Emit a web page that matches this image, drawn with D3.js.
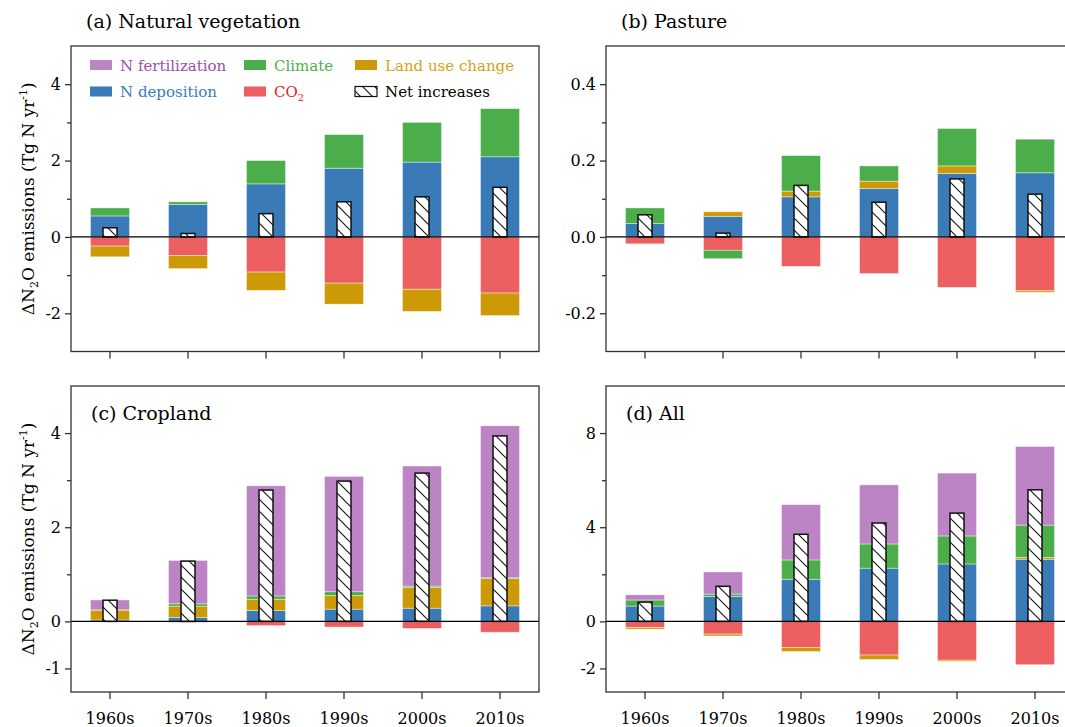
<!DOCTYPE html>
<html>
<head>
<meta charset="utf-8">
<script src="https://cdn.jsdelivr.net/npm/d3@7"></script>
<style>
  body { margin: 0; background: #fff; }
  svg { font-family: "DejaVu Serif", serif; }
</style>
</head>
<body>
<script>
const decades = ["1960s", "1970s", "1980s", "1990s", "2000s", "2010s"];

// (a) natural vegetation
const natNfert   = [0, 0, 0, 0, 0, 0];
const natNdep    = [0.55, 0.85, 1.39, 1.80, 1.96, 2.10];
const natClimate = [0.21, 0.07, 0.61, 0.88, 1.04, 1.26];
const natCo2     = [-0.24, -0.49, -0.92, -1.21, -1.37, -1.47];
const natLuc     = [-0.28, -0.34, -0.48, -0.55, -0.58, -0.59];
const natNet     = [0.24, 0.09, 0.61, 0.92, 1.05, 1.30];

// (b) pasture
const pasNfert   = [0, 0, 0, 0, 0, 0];
const pasNdep    = [0.035, 0.054, 0.105, 0.127, 0.166, 0.168];
const pasClimate = [0.041, -0.022, 0.093, 0.040, 0.098, 0.088];
const pasCo2     = [-0.018, -0.035, -0.077, -0.096, -0.132, -0.141];
const pasLuc     = [0, 0.012, 0.015, 0.019, 0.020, -0.004];
const pasNet     = [0.058, 0.010, 0.135, 0.091, 0.152, 0.112];

// (c) cropland
const cropNfert   = [0.21, 0.92, 2.34, 2.45, 2.55, 3.23];
const cropNdep    = [0.03, 0.085, 0.23, 0.26, 0.28, 0.33];
const cropClimate = [0.005, 0.05, 0.07, 0.08, 0.03, 0.015];
const cropCo2     = [-0.005, -0.02, -0.09, -0.12, -0.15, -0.23];
const cropLuc     = [0.21, 0.24, 0.24, 0.29, 0.44, 0.58];
const cropNet     = [0.45, 1.28, 2.79, 2.98, 3.15, 3.94];

// (d) all
const allNfert   = [0.22, 0.94, 2.35, 2.51, 2.67, 3.34];
const allNdep    = [0.65, 1.06, 1.79, 2.26, 2.44, 2.64];
const allClimate = [0.26, 0.10, 0.82, 1.03, 1.19, 1.37];
const allCo2     = [-0.26, -0.54, -1.11, -1.43, -1.65, -1.84];
const allLuc     = [-0.07, -0.08, -0.17, -0.19, -0.05, 0.08];
const allNet     = [0.82, 1.49, 3.70, 4.18, 4.60, 5.59];

// y ticks
const natTicks = [-2, 0, 2, 4], natMinor = [-1, 1, 3], natLabels = ["-2", "0", "2", "4"];
const pasTicks = [-0.2, 0, 0.2, 0.4], pasMinor = [-0.1, 0.1, 0.3], pasLabels = ["-0.2", "0.0", "0.2", "0.4"];
const cropTicks = [-1, 0, 2, 4], cropMinor = [1, 3], cropLabels = ["-1", "0", "2", "4"];
const allTicks = [-2, 0, 4, 8], allMinor = [2, 6], allLabels = ["-2", "0", "4", "8"];

const keys = ["ndep", "co2", "luc", "climate", "nfert"]; // stacking order
const fill = {nfert: "#bd84c5", ndep: "#3a7bb7", climate: "#4cae4b", co2: "#ec5f60", luc: "#cc9a06"};
const textCol = {nfert: "#9a4ea6", ndep: "#3a7dbd", climate: "#4daf4a", co2: "#e41a1c", luc: "#d6a219"};

const W = 468;
const panels = [
  {title: "(a) Natural vegetation", x0: 71, y0: 46, h: 305.5, dom: [-3, 5], ticks: natTicks, minor: natMinor, labels: natLabels,
   s: {nfert: natNfert, ndep: natNdep, climate: natClimate, co2: natCo2, luc: natLuc}, net: natNet, inside: false, ylab: true, xlab: false, legend: true},
  {title: "(b) Pasture", x0: 606, y0: 46, h: 305.5, dom: [-0.3, 0.5], ticks: pasTicks, minor: pasMinor, labels: pasLabels,
   s: {nfert: pasNfert, ndep: pasNdep, climate: pasClimate, co2: pasCo2, luc: pasLuc}, net: pasNet, inside: false, ylab: false, xlab: false},
  {title: "(c) Cropland", x0: 71, y0: 386, h: 306, dom: [-1.5, 5], ticks: cropTicks, minor: cropMinor, labels: cropLabels,
   s: {nfert: cropNfert, ndep: cropNdep, climate: cropClimate, co2: cropCo2, luc: cropLuc}, net: cropNet, inside: true, ylab: true, xlab: true},
  {title: "(d) All", x0: 606, y0: 386, h: 306, dom: [-3, 10], ticks: allTicks, minor: allMinor, labels: allLabels,
   s: {nfert: allNfert, ndep: allNdep, climate: allClimate, co2: allCo2, luc: allLuc}, net: allNet, inside: true, ylab: false, xlab: true}
];

const svg = d3.select("body").append("svg")
  .attr("width", 1065).attr("height", 727);

const pat = svg.append("defs").append("pattern")
  .attr("id", "hatch").attr("patternUnits", "userSpaceOnUse")
  .attr("width", 12).attr("height", 12);
pat.append("rect").attr("width", 12).attr("height", 12).attr("fill", "#fff");
pat.append("path").attr("d", "M-1,-1 L13,13 M-1,11 L1,13 M11,-1 L13,1")
  .attr("stroke", "#111").attr("stroke-width", 1.1);

panels.forEach(p => {
  const g = svg.append("g");
  const x = d3.scaleBand().domain(decades).range([p.x0, p.x0 + W]).paddingInner(0.5).paddingOuter(0.25);
  const y = d3.scaleLinear().domain(p.dom).range([p.y0 + p.h, p.y0]);

  const rows = decades.map((d, i) => {
    const r = {decade: d};
    keys.forEach(k => r[k] = p.s[k][i]);
    return r;
  });
  const stacked = d3.stack().keys(keys).offset(d3.stackOffsetDiverging)(rows);

  g.selectAll("g.series").data(stacked).enter().append("g")
    .attr("fill", d => fill[d.key])
    .selectAll("rect").data(d => d).enter().append("rect")
      .attr("x", d => x(d.data.decade))
      .attr("width", x.bandwidth())
      .attr("y", d => y(Math.max(d[0], d[1])))
      .attr("height", d => Math.abs(y(d[0]) - y(d[1])))
      .attr("stroke", "#fff").attr("stroke-width", 0.8).attr("stroke-opacity", 0.5);

  // net increases
  const nw = 14;
  g.selectAll("rect.net").data(p.net).enter().append("rect")
    .attr("class", "net")
    .attr("x", (d, i) => x(decades[i]) + x.bandwidth() / 2 - nw / 2)
    .attr("width", nw)
    .attr("y", d => y(Math.max(0, d)))
    .attr("height", d => Math.abs(y(d) - y(0)))
    .attr("fill", "url(#hatch)")
    .attr("stroke", "#111").attr("stroke-width", 1.5);

  // zero line
  g.append("line")
    .attr("x1", p.x0).attr("x2", p.x0 + W)
    .attr("y1", y(0)).attr("y2", y(0))
    .attr("stroke", "#000").attr("stroke-width", 1.2);

  // frame
  g.append("rect")
    .attr("x", p.x0).attr("y", p.y0).attr("width", W).attr("height", p.h)
    .attr("fill", "none").attr("stroke", "#333").attr("stroke-width", 1.3);

  // axes
  const yAxis = g.append("g").attr("transform", `translate(${p.x0},0)`)
    .call(d3.axisLeft(y).tickValues(p.ticks).tickFormat((d, i) => p.labels[i]).tickSize(6).tickPadding(4).tickSizeOuter(0));
  const yMinor = g.append("g").attr("transform", `translate(${p.x0},0)`)
    .call(d3.axisLeft(y).tickValues(p.minor).tickFormat("").tickSize(4).tickSizeOuter(0));
  const xAxis = g.append("g").attr("transform", `translate(0,${p.y0 + p.h})`)
    .call(d3.axisBottom(x).tickSize(7).tickPadding(14).tickSizeOuter(0).tickFormat(p.xlab ? null : ""));
  [yAxis, yMinor, xAxis].forEach(a => {
    a.select(".domain").remove();
    a.selectAll("line").attr("stroke", "#333").attr("stroke-width", 1.3);
    a.selectAll("text").attr("fill", "#000").style("font-size", "16px").style("font-family", "DejaVu Serif");
  });

  // title
  g.append("text")
    .attr("x", p.inside ? p.x0 + 20 : p.x0 + 15)
    .attr("y", p.inside ? p.y0 + 34 : 28)
    .attr("fill", "#000").style("font-size", "19px")
    .text(p.title);

  // y label
  if (p.ylab) {
    const t = g.append("text")
      .attr("transform", `translate(34,${p.y0 + p.h / 2}) rotate(-90)`)
      .attr("text-anchor", "middle").attr("fill", "#000").style("font-size", "17px");
    t.append("tspan").text("ΔN");
    t.append("tspan").attr("dy", 4).style("font-size", "11px").text("2");
    t.append("tspan").attr("dy", -4).text("O emissions (Tg N yr");
    t.append("tspan").attr("dy", -7).style("font-size", "11px").text("-1");
    t.append("tspan").attr("dy", 7).text(")");
  }

  // legend
  if (p.legend) {
    const items = [
      {k: "nfert", label: "N fertilization", col: 0, row: 0},
      {k: "climate", label: "Climate", col: 1, row: 0},
      {k: "luc", label: "Land use change", col: 2, row: 0},
      {k: "ndep", label: "N deposition", col: 0, row: 1},
      {k: "co2", label: "CO", col: 1, row: 1},
      {k: "net", label: "Net increases", col: 2, row: 1}
    ];
    const colX = [90, 244, 355], rowY = [65, 91.5];
    items.forEach(it => {
      const lx = colX[it.col], ly = rowY[it.row];
      if (it.k === "net") {
        g.append("rect").attr("x", lx).attr("y", ly - 5).attr("width", 22).attr("height", 10)
          .attr("fill", "url(#hatch)").attr("stroke", "#111").attr("stroke-width", 1.2);
      } else {
        g.append("rect").attr("x", lx).attr("y", ly - 5).attr("width", 22).attr("height", 10)
          .attr("fill", fill[it.k]);
      }
      const t = g.append("text").attr("x", lx + 30).attr("y", ly + 5.5)
        .attr("fill", it.k === "net" ? "#000" : textCol[it.k]).style("font-size", "15px")
        .text(it.label);
      if (it.k === "co2") t.append("tspan").attr("dy", 4).style("font-size", "10px").text("2");
    });
  }
});
</script>
</body>
</html>
